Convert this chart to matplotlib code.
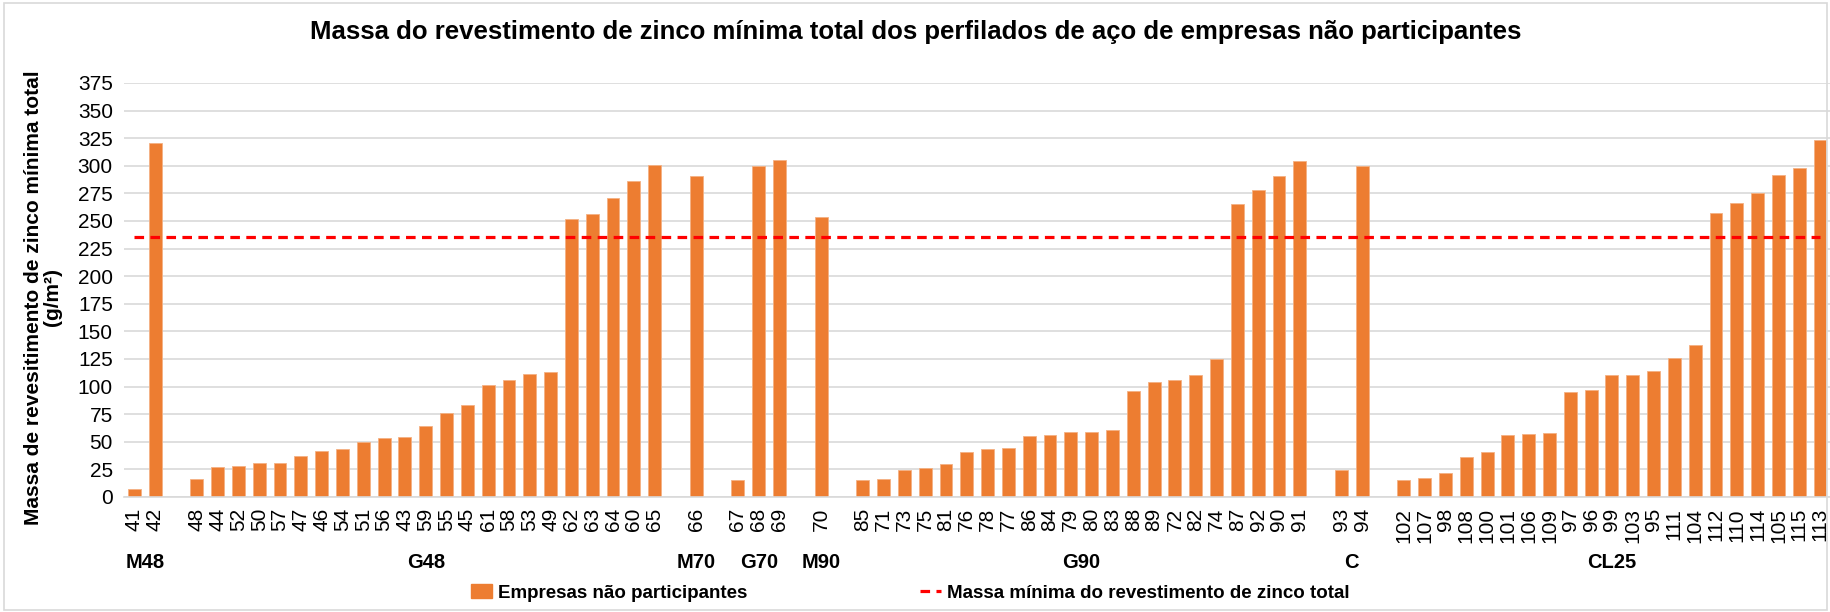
import matplotlib
matplotlib.use("Agg")
import matplotlib.pyplot as plt
from matplotlib.patches import Patch, Rectangle
from matplotlib.lines import Line2D

plt.rcParams['font.family'] = ['Liberation Sans', 'DejaVu Sans']

# groups, in order, with sample ids and zinc coating mass (g/m2)
group_names = ["M48", "G48", "M70", "G70", "M90", "G90", "C", "CL25"]
group_ids = [
    ["41", "42"],
    ["48", "44", "52", "50", "57", "47", "46", "54", "51", "56", "43", "59",
     "55", "45", "61", "58", "53", "49", "62", "63", "64", "60", "65"],
    ["66"],
    ["67", "68", "69"],
    ["70"],
    ["85", "71", "73", "75", "81", "76", "78", "77", "86", "84", "79", "80",
     "83", "88", "89", "72", "82", "74", "87", "92", "90", "91"],
    ["93", "94"],
    ["102", "107", "98", "108", "100", "101", "106", "109", "97", "96", "99",
     "103", "95", "111", "104", "112", "110", "114", "105", "115", "113"],
]
group_vals = [
    [7, 321],
    [16, 27, 28, 31, 31, 37, 42, 43, 50, 53, 54, 64,
     76, 83, 101, 106, 111, 113, 252, 256, 271, 286, 301],
    [291],
    [15, 300, 305],
    [254],
    [15, 16, 24, 26, 30, 41, 43, 44, 55, 56, 59, 59,
     61, 96, 104, 106, 110, 125, 265, 278, 291, 304],
    [24, 300],
    [15, 17, 22, 36, 41, 56, 57, 58, 95, 97, 110,
     110, 114, 126, 138, 257, 266, 275, 292, 298, 323],
]
limite = 235

title = "Massa do revestimento de zinco mínima total dos perfilados de aço de empresas não participantes"
ylabel = "Massa de revesitimento de zinco mínima total\n(g/m²)"
leg_bar = "Empresas não participantes"
leg_line = "Massa mínima do revestimento de zinco total"

# lay out the slots: one empty slot between groups
xs, labels, vals, centers = [], [], [], []
pos = 0
for g in range(len(group_names)):
    start = pos
    for cid, v in zip(group_ids[g], group_vals[g]):
        xs.append(pos)
        labels.append(cid)
        vals.append(v)
        pos += 1
    centers.append((start + pos - 1) / 2.0)
    pos += 1
nslots = pos - 1

fig = plt.figure(figsize=(18.31, 6.12), dpi=100)
ax = fig.add_axes([0.0677, 0.188, 0.932, 0.6765])

orange = "#ED7D31"
ax.bar(xs, vals, width=0.62, color=orange, edgecolor="#F4B183", linewidth=0.6, zorder=2)
ax.plot(range(nslots), [limite] * nslots, color="#FF0000", linestyle=(0, (3, 2)),
        linewidth=2.3, zorder=3)

ax.set_xlim(-0.5, nslots - 0.5)
ax.set_ylim(0, 375)
ax.set_yticks(range(0, 376, 25))
ax.yaxis.grid(True, color="#D9D9D9", linewidth=1.2, zorder=0)
ax.set_axisbelow(True)
for s in ["top", "right", "left"]:
    ax.spines[s].set_visible(False)
ax.spines["bottom"].set_color("#D9D9D9")
ax.spines["bottom"].set_linewidth(1.2)
ax.tick_params(axis="both", length=0, labelsize=15, colors="#000000")
ax.tick_params(axis="y", pad=8)
ax.tick_params(axis="x", pad=8)
ax.set_xticks(xs)
ax.set_xticklabels(labels, rotation=90)

for name, c in zip(group_names, centers):
    ax.text(c, -0.158, name, transform=ax.get_xaxis_transform(), ha="center",
            va="center", fontsize=14.5, fontweight="bold")

fig.text(0.5, 0.948, title, ha="center", va="center", fontsize=18.5, fontweight="bold")
fig.text(0.0235, 0.514, ylabel, ha="center", va="center", rotation=90,
         fontsize=15, fontweight="bold", linespacing=1.0)

handles = [Patch(facecolor=orange, edgecolor=orange),
           Line2D([0], [0], color="#FF0000", linestyle=(0, (3, 2)), linewidth=2.3)]
fig.legend(handles, [leg_bar, leg_line], loc="center", bbox_to_anchor=(0.497, 0.031),
           ncol=2, frameon=False, columnspacing=9.2, handlelength=1.15,
           handletextpad=0.3, prop={"size": 13.5, "weight": "bold"})

fig.patches.append(Rectangle((0.002, 0.003), 0.996, 0.992, transform=fig.transFigure,
                             fill=False, edgecolor="#D9D9D9", linewidth=1.2))

fig.savefig("out.png", dpi=100)
